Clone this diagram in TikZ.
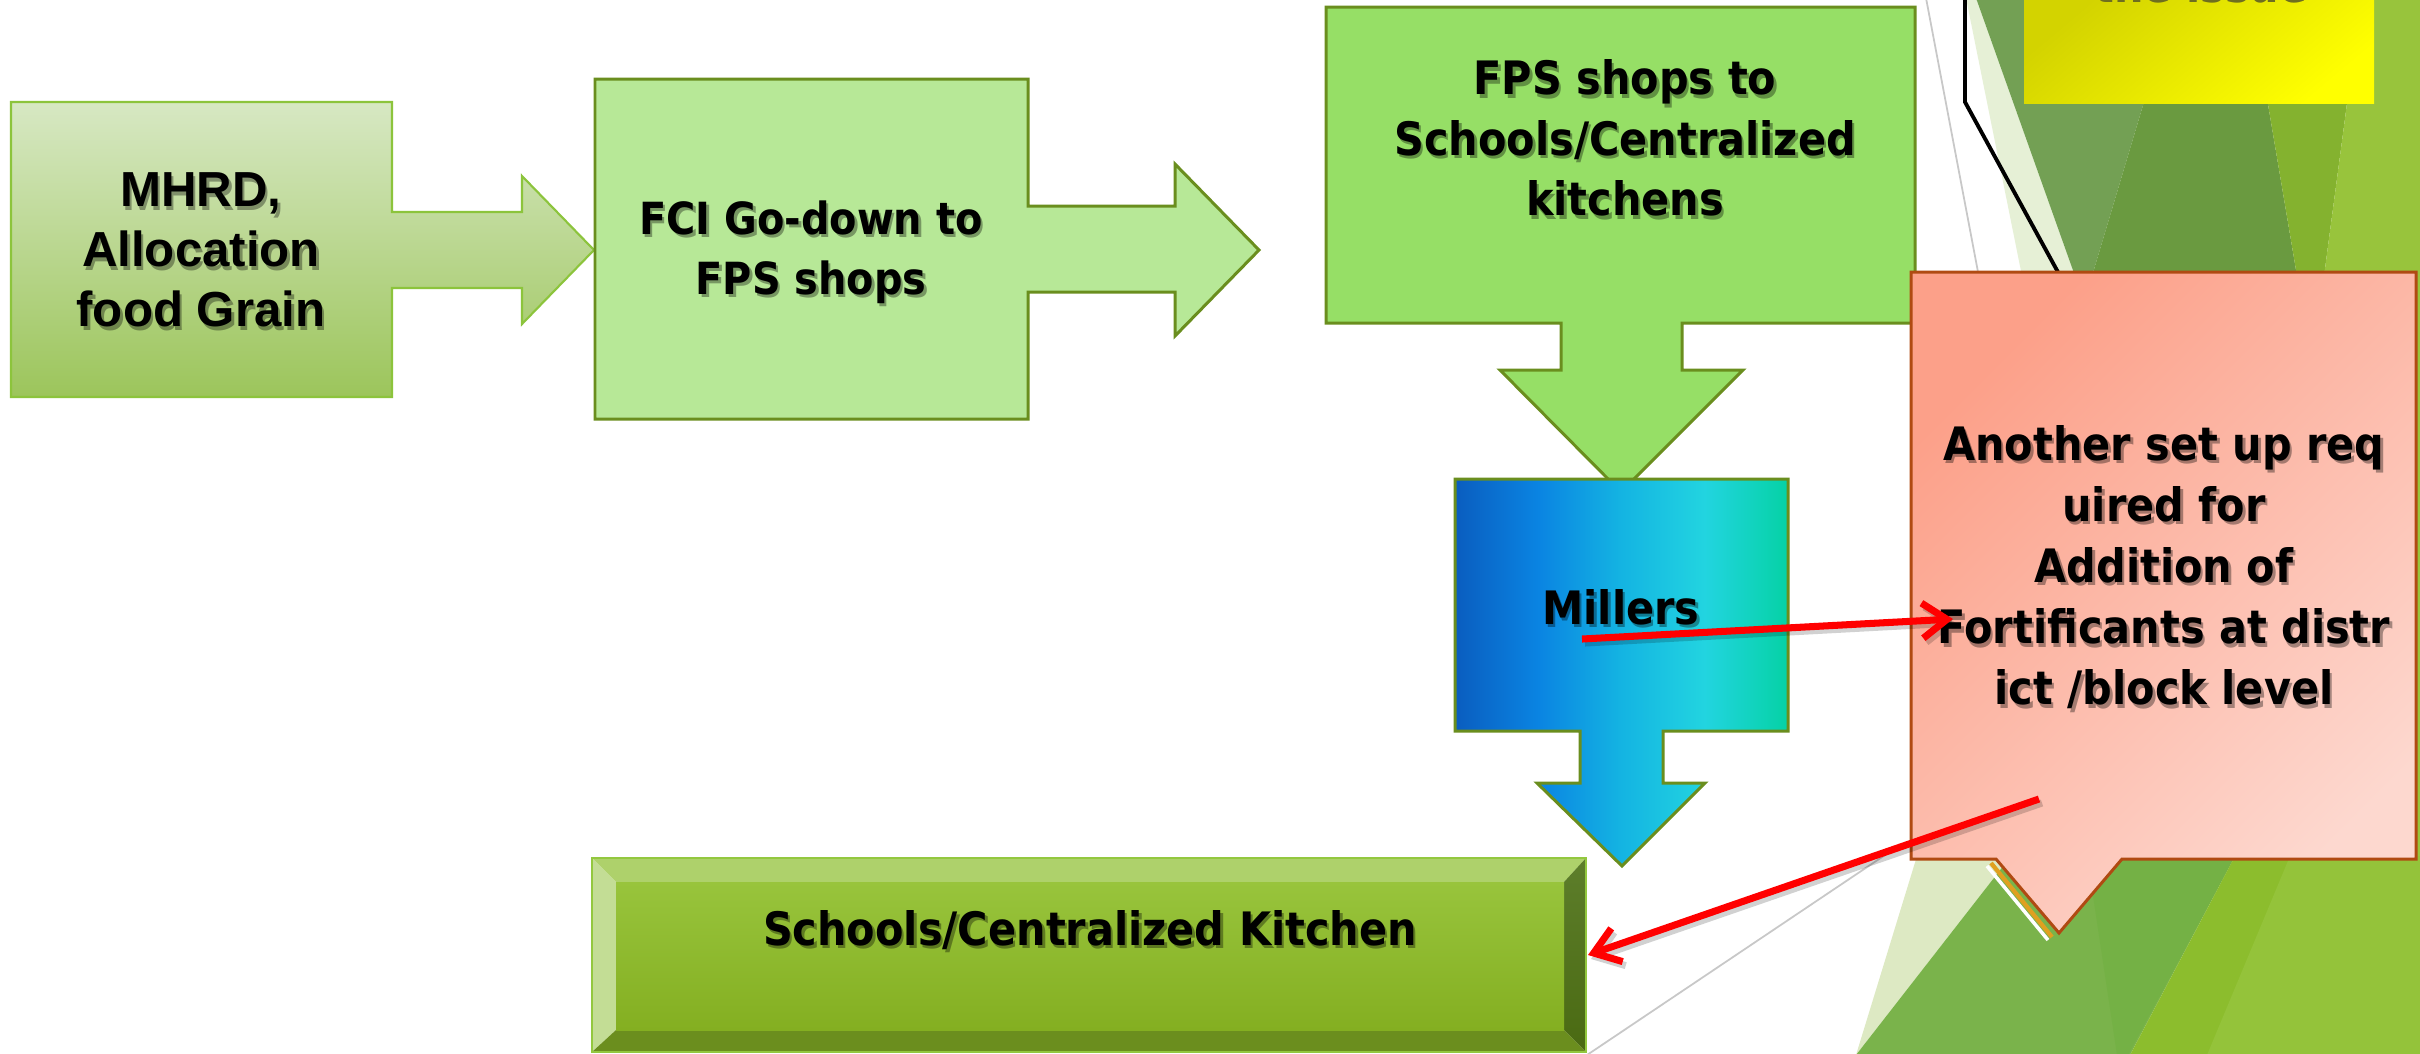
\documentclass[tikz,border=0pt]{standalone}
\usepackage{fontspec}
\newfontfamily\tah{DejaVu Sans}[FakeStretch=0.9]
\newfontfamily\arialf{Liberation Sans}
\usetikzlibrary{arrows.meta}
\definecolor{mhrdTop}{HTML}{D7E8C3}
\definecolor{mhrdBot}{HTML}{9CC55B}
\definecolor{mhrdLine}{HTML}{8CC43C}
\definecolor{olv}{HTML}{6A8E1E}
\definecolor{fciFill}{HTML}{B7E897}
\definecolor{fpsFill}{HTML}{96DF66}
\definecolor{mA}{HTML}{0A5DBF}
\definecolor{mB}{HTML}{0A84E2}
\definecolor{mC}{HTML}{14B4E2}
\definecolor{mD}{HTML}{22D4E0}
\definecolor{mE}{HTML}{05D2A5}
\definecolor{cTop}{HTML}{FCA089}
\definecolor{cBot}{HTML}{FDD8CF}
\definecolor{cLine}{HTML}{B04A12}
\definecolor{cShad}{HTML}{E0A020}
\definecolor{bvTop}{HTML}{AED16B}
\definecolor{bvLeft}{HTML}{C3DD95}
\definecolor{bvRightT}{HTML}{5D7E2B}
\definecolor{bvRightB}{HTML}{4A6A12}
\definecolor{bvBot}{HTML}{6B8E1E}
\definecolor{bvFaceT}{HTML}{98C43C}
\definecolor{bvFaceB}{HTML}{84AF21}
\definecolor{bvLine}{HTML}{93C83F}
\definecolor{yA}{HTML}{D3D300}
\definecolor{yB}{HTML}{FFFF00}
\definecolor{issueTx}{HTML}{6E6E20}
\definecolor{tSl}{HTML}{E6F0D6}
\definecolor{tMid}{HTML}{73A054}
\definecolor{tDark}{HTML}{6A9A40}
\definecolor{tOl}{HTML}{84B22F}
\definecolor{tYg}{HTML}{98C43C}
\definecolor{bSl}{HTML}{DDE9C3}
\definecolor{bGr}{HTML}{7AB34B}
\definecolor{bBand}{HTML}{74B145}
\definecolor{bYg}{HTML}{8CBD2D}
\definecolor{bYg2}{HTML}{94C33A}
\definecolor{greyln}{HTML}{C8C8C8}
\pgfdeclarehorizontalshading{millershade}{100bp}{color(0bp)=(mA); color(25bp)=(mA); color(37.5bp)=(mB); color(50bp)=(mC); color(62.5bp)=(mD); color(75bp)=(mE); color(100bp)=(mE)}
\begin{document}
\begin{tikzpicture}[x=0.01cm,y=-0.01cm,
  tx/.style={inner sep=0pt, align=center, text=black, font=\tah\bfseries\fontsize{13.1pt}{17.2pt}\selectfont},
  txs/.style={tx, text=black, text opacity=0.35, xshift=0.025cm, yshift=-0.035cm},
  fcitx/.style={tx, font=\tah\bfseries\fontsize{12.6pt}{17.1pt}\selectfont},
  fcitxs/.style={fcitx, text opacity=0.35, xshift=0.025cm, yshift=-0.035cm},
  cltx/.style={tx, font=\tah\bfseries\fontsize{13.1pt}{17.4pt}\selectfont},
  cltxs/.style={cltx, text opacity=0.35, xshift=0.025cm, yshift=-0.035cm},
  arl/.style={inner sep=0pt, align=center, text=black, font=\arialf\bfseries\fontsize{14pt}{17.1pt}\selectfont},
  arls/.style={arl, text opacity=0.35, xshift=0.025cm, yshift=-0.035cm},
  olvbox/.style={draw=olv, line width=0.85pt, line join=miter},
  redarr/.style={draw=red, line width=2pt, -{Straight Barb[length=7pt, width=10pt]}},
  redshad/.style={draw=black, opacity=0.18, line width=2pt, -{Straight Barb[length=7pt, width=10pt]}},
  gline/.style={draw=greyln, line width=0.5pt},
]
\useasboundingbox (0,0) rectangle (2420,1053);
\clip (0,0) rectangle (2420,1053);
\fill[white] (0,0) rectangle (2420,1053);

% background decoration at the right
\fill[tSl] (1966,-2) -- (1976,-2) -- (2075,276) -- (2022,276) -- cycle;
\fill[tMid] (1976,-2) -- (2175,-2) -- (2092,276) -- (2075,276) -- cycle;
\fill[tDark] (2175,-2) -- (2250,-2) -- (2297,276) -- (2092,276) -- cycle;
\fill[tOl] (2250,-2) -- (2361,-2) -- (2324,276) -- (2297,276) -- cycle;
\fill[tYg] (2361,-2) -- (2422,-2) -- (2422,276) -- (2324,276) -- cycle;
\fill[tYg] (2410,270) rectangle (2422,860);
\fill[bSl] (1917,856) -- (2011,856) -- (1856,1055) -- cycle;
\fill[bGr] (2011,856) -- (2235,856) -- (2130,1055) -- (1856,1055) -- cycle;
\fill[bBand] (2087,856) -- (2235,856) -- (2128,1055) -- (2117,1055) -- cycle;
\fill[bYg] (2235,856) -- (2422,856) -- (2422,1055) -- (2130,1055) -- cycle;
\fill[bYg2] (2290,856) -- (2422,856) -- (2422,1055) -- (2207,1055) -- cycle;

% thin grey lines
\draw[gline] (1926,-2) -- (1978,272);
\draw[gline] (1587,1055) -- (1885,855);

% black pointer line
\draw[black, line width=1.1pt, line join=miter] (1965,-5) -- (1965,102) -- (2059,274);

% yellow box (cut at the top)
\shade[top color=yA, bottom color=yB, shading angle=40] (2024,-2) rectangle (2374,103);
\node[cltx, text=issueTx, anchor=base] (issue) at (2201,2) {the issue};

% MHRD arrow box
\shadedraw[top color=mhrdTop, bottom color=mhrdBot, draw=mhrdLine, line width=0.6pt, line join=miter]
  (11,102) -- (392,102) -- (392,212) -- (522,212) -- (522,176) -- (594,250) -- (522,324) -- (522,288) -- (392,288) -- (392,397) -- (11,397) -- cycle;
\node[arls] (mhrdS) at (201,250) {MHRD,\\Allocation\\food Grain};
\node[arl] (mhrd) at (201,250) {MHRD,\\Allocation\\food Grain};

% FCI arrow box
\path[fill=fciFill, olvbox]
  (595,79) -- (1028,79) -- (1028,206) -- (1175,206) -- (1175,164) -- (1259,250) -- (1175,336) -- (1175,292) -- (1028,292) -- (1028,419) -- (595,419) -- cycle;
\node[fcitxs] (fciS) at (811,252) {FCI Go-down to\\FPS shops};
\node[fcitx] (fci) at (811,252) {FCI Go-down to\\FPS shops};

% FPS arrow box
\path[fill=fpsFill, olvbox]
  (1326,7) -- (1915,7) -- (1915,323) -- (1682,323) -- (1682,370) -- (1743,370) -- (1621,492) -- (1500,370) -- (1561,370) -- (1561,323) -- (1326,323) -- cycle;
\node[txs] (fpsS) at (1625,138) {FPS shops to\\Schools/Centralized\\kitchens};
\node[tx] (fps) at (1625,138) {FPS shops to\\Schools/Centralized\\kitchens};

% Millers arrow box
\shadedraw[shading=millershade, olvbox]
  (1455,479) -- (1788,479) -- (1788,731) -- (1663,731) -- (1663,783) -- (1705,783) -- (1622,866) -- (1537,783) -- (1580,783) -- (1580,731) -- (1455,731) -- cycle;
\node[txs] (millS) at (1621,607) {Millers};
\node[tx] (mill) at (1621,607) {Millers};

% bevelled box
\fill[bvTop] (592,858) -- (1586,858) -- (1564,882) -- (616,882) -- cycle;
\fill[bvLeft] (592,858) -- (616,882) -- (616,1030) -- (592,1052) -- cycle;
\shade[top color=bvRightT, bottom color=bvRightB] (1586,858) -- (1586,1052) -- (1564,1030) -- (1564,882) -- cycle;
\fill[bvBot] (592,1052) -- (616,1030) -- (1564,1030) -- (1586,1052) -- cycle;
\shade[top color=bvFaceT, bottom color=bvFaceB] (616,882) rectangle (1564,1030);
\draw[bvLine, line width=0.6pt] (592,858) rectangle (1586,1052);
\node[txs] (kitS) at (1090,930) {Schools/Centralized Kitchen};
\node[tx] (kit) at (1090,930) {Schools/Centralized Kitchen};

% callout
\draw[cShad, line width=1.2pt] (1991,863) -- (2052,937);
\draw[white, line width=1pt] (1987,866) -- (2048,940);
\shadedraw[top color=cTop, bottom color=cBot, shading angle=45, draw=cLine, line width=0.85pt, line join=miter]
  (1911,272) -- (2416,272) -- (2416,859) -- (2122,859) -- (2059,933) -- (1996,859) -- (1911,859) -- cycle;
\node[cltxs] (noteS) at (2164,567) {Another set up req\\uired for\\Addition of\\Fortificants at distr\\ict /block level};
\node[cltx] (note) at (2164,567) {Another set up req\\uired for\\Addition of\\Fortificants at distr\\ict /block level};

% red pointer arrows
\coordinate (r1s) at (1582,639);
\coordinate (r1e) at (1953,619);
\coordinate (r2s) at (2039,799);
\coordinate (r2e) at (1588,955);
\begin{scope}[transform canvas={shift={(0.03cm,-0.04cm)}}]
\draw[redshad] (r1s) -- (r1e);
\draw[redshad] (r2s) -- (r2e);
\end{scope}
\draw[redarr] (r1s) -- (r1e);
\draw[redarr] (r2s) -- (r2e);
\end{tikzpicture}
\end{document}
